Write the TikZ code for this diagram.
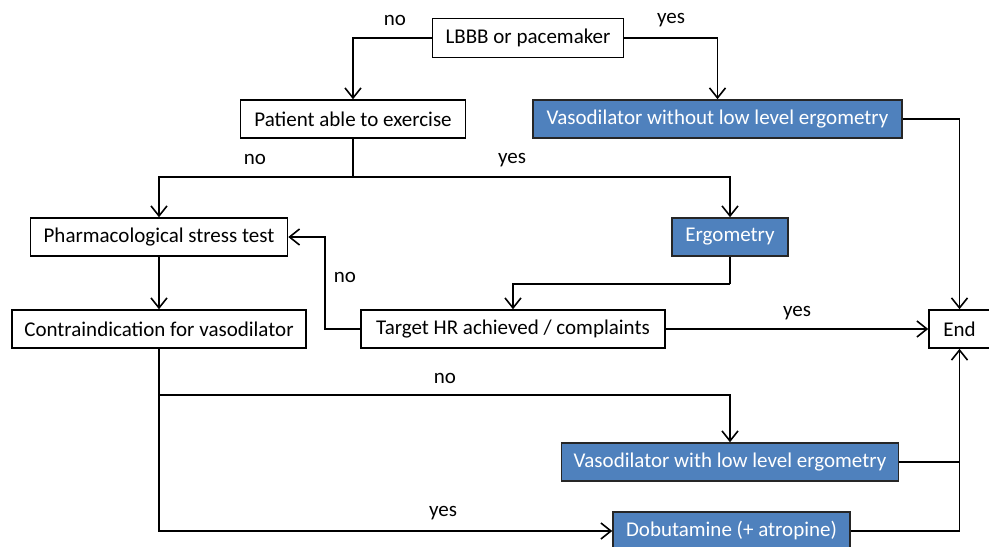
\documentclass[tikz,border=0pt]{standalone}
\usepackage{fontspec}
\setmainfont{Carlito}
\usetikzlibrary{arrows.meta}
\definecolor{boxblue}{HTML}{4F81BD}
\begin{document}
\begin{tikzpicture}[x=0.5pt,y=-0.5pt,
  every node/.style={font=\fontsize{10.5}{13}\selectfont},
  wbox/.style={draw=black,line width=0.8pt,fill=white,inner sep=0pt,align=center},
  bbox/.style={draw=black!85,line width=0.8pt,fill=boxblue,text=white,inner sep=0pt,align=center},
  conn/.style={line width=0.8pt,draw=black},
  arr/.style={conn,-{Straight Barb[length=5pt,width=8pt,line width=0.8pt]}},
  lbl/.style={inner sep=0pt}]
\useasboundingbox (0,0) rectangle (989,546);
\fill[white] (0,0) rectangle (989,546);
\node[wbox,minimum width=95.5pt,minimum height=19.5pt] (lbbb) at (528,38) {LBBB or pacemaker};
\node[wbox,minimum width=112.5pt,minimum height=19pt] (pat) at (353,119) {Patient able to exercise};
\node[bbox,minimum width=184.5pt,minimum height=19pt] (vwo) at (717.5,119) {Vasodilator without low level ergometry};
\node[wbox,minimum width=128.5pt,minimum height=19pt] (pharm) at (159,237) {Pharmacological stress test};
\node[bbox,minimum width=58pt,minimum height=19pt] (ergo) at (730,237) {Ergometry};
\node[wbox,minimum width=147pt,minimum height=19pt] (contra) at (159,329) {Contraindication for vasodilator};
\node[wbox,minimum width=152pt,minimum height=19pt] (target) at (513,329) {Target HR achieved / complaints};
\node[wbox,minimum width=30.5pt,minimum height=19pt] (end) at (959.5,329) {End};
\node[bbox,minimum width=168.5pt,minimum height=19pt] (vw) at (730,462) {Vasodilator with low level ergometry};
\node[bbox,minimum width=118.5pt,minimum height=19pt] (dob) at (731.5,531) {Dobutamine (+ atropine)};
% connectors
\draw[arr] (lbbb.west) -| (pat.north);
\draw[arr] (lbbb.east) -| (vwo.north);
\draw[arr] (vwo.east) -| (end.north);
\coordinate (pj) at (353,177);
\draw[conn] (pat.south) -- (pj);
\draw[arr] (pj) -| (pharm.north);
\draw[arr] (pj) -| (ergo.north);
\coordinate (ej) at (730,284);
\draw[conn] (ergo.south) -- (ej);
\draw[arr] (ej) -| (target.north);
\coordinate (tl) at (325,329);
\draw[arr] (target.west) -- (tl) |- (pharm.east);
\draw[arr] (target.east) -- (end.west);
\draw[arr] (pharm.south) -- (contra.north);
\coordinate (cj) at (159,395);
\draw[conn] (contra.south) -- (cj);
\draw[arr] (cj) -| (vw.north);
\draw[arr] (cj) |- (dob.west);
\coordinate (ej2) at (960,462);
\draw[conn] (vw.east) -- (ej2);
\draw[arr] (dob.east) -| (end.south);
% labels
\node[lbl] (l1) at (395,20) {no};
\node[lbl] (l2) at (671,20) {yes};
\node[lbl] (l3) at (255,159) {no};
\node[lbl] (l4) at (512,160) {yes};
\node[lbl] (l5) at (345,277) {no};
\node[lbl] (l6) at (797,313) {yes};
\node[lbl] (l7) at (445,378) {no};
\node[lbl] (l8) at (443,513) {yes};
\end{tikzpicture}
\end{document}
